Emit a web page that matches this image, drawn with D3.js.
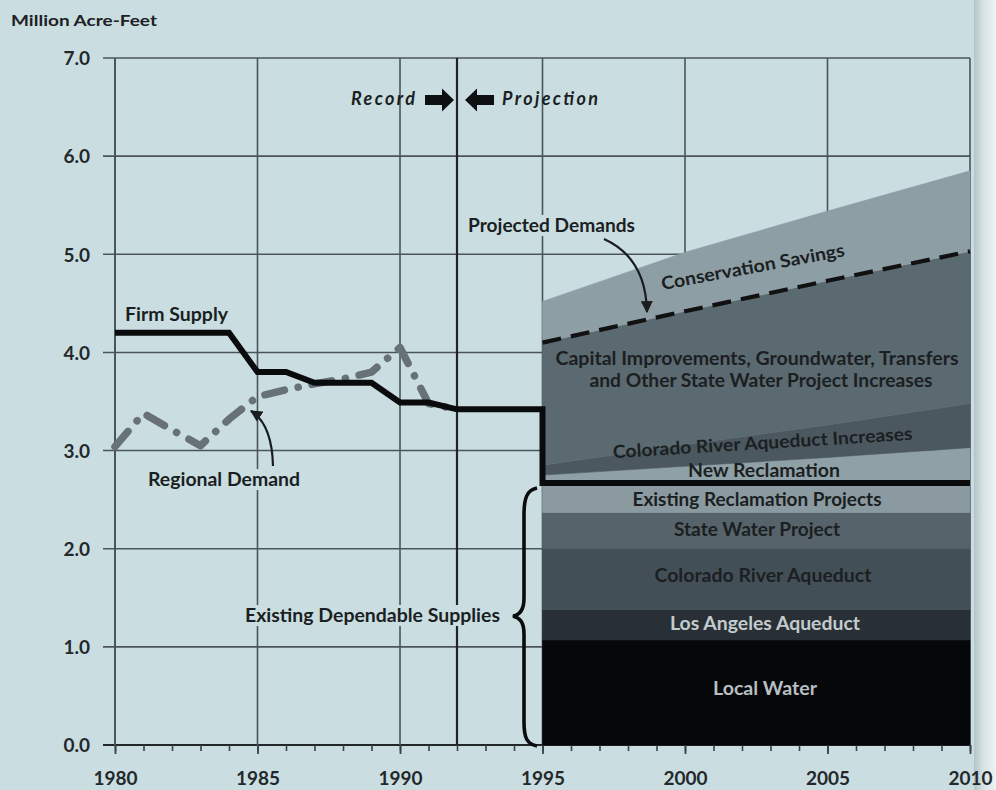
<!DOCTYPE html>
<html><head><meta charset="utf-8">
<script src="https://cdn.jsdelivr.net/npm/d3@7"></script>
<style>
html,body{margin:0;padding:0;background:#cadee2;}
svg{display:block;}
text{font-family:Lato, "Open Sans", sans-serif;}
</style></head><body>
<svg id="c" width="996" height="790"></svg>
<script>
// ---------- data ----------
const recordYears = [1980,1981,1982,1983,1984,1985,1986,1987,1988,1989,1990,1991,1992];
const firmSupplyRecord = [4.2,4.2,4.2,4.2,4.2,3.8,3.8,3.69,3.69,3.69,3.49,3.49,3.42];
const regionalDemand = [3.04,3.38,3.21,3.05,3.32,3.55,3.62,3.68,3.73,3.80,4.05,3.48,3.42];
const firmSupplyProjYears = [1995,1995,2010];
const firmSupplyProj = [3.42,2.67,2.67];

const projYears = [1995,2000,2005,2010];
const localWater = [1.07,1.07,1.07,1.07];
const losAngelesAqueduct = [0.31,0.31,0.31,0.31];
const coloradoRiverAqueduct = [0.62,0.62,0.62,0.62];
const stateWaterProject = [0.37,0.37,0.37,0.37];
const existingReclamation = [0.30,0.30,0.30,0.30];
const newReclamation = [0.08,0.17,0.26,0.36];
const coloradoIncreases = [0.10,0.22,0.33,0.45];
const capitalImprovements = [1.25,1.36,1.47,1.55];
const conservationSavings = [0.42,0.60,0.71,0.82];

const yTicks = [0,1,2,3,4,5,6,7];
const xMajorTicks = [1980,1985,1990,1995,2000,2005,2010];
const xMinorTicks = d3.range(1980,2011);
const dividerYear = 1992;

// ---------- setup ----------
const svg = d3.select('#c');
const x = d3.scaleLinear().domain([1980,2010]).range([115,970]);
const y = d3.scaleLinear().domain([0,7]).range([745,58]);
const gridLeft = 103;
const gridColor = '#4b5459';

const defs = svg.append('defs');
const grad = defs.append('linearGradient').attr('id','edge').attr('x1','0').attr('x2','1');
grad.append('stop').attr('offset','0').attr('stop-color','#b3c4c8');
grad.append('stop').attr('offset','0.45').attr('stop-color','#d9e3e5');
grad.append('stop').attr('offset','1').attr('stop-color','#eef2f2');
defs.append('marker').attr('id','ah').attr('viewBox','0 0 10 10').attr('refX',9).attr('refY',5)
  .attr('markerWidth',12).attr('markerHeight',12).attr('markerUnits','userSpaceOnUse').attr('orient','auto')
  .append('path').attr('d','M0,0 L10,5 L0,10 Z').attr('fill','#1a1d1f');

svg.append('rect').attr('width',996).attr('height',790).attr('fill','#cadee2');
svg.append('rect').attr('x',974).attr('y',0).attr('width',22).attr('height',790).attr('fill','url(#edge)');

// ---------- grid ----------
const gGrid = svg.append('g');
gGrid.selectAll('line.h').data(yTicks).join('line')
  .attr('x1',gridLeft).attr('x2',x(2010)).attr('y1',d=>y(d)).attr('y2',d=>y(d))
  .attr('stroke',d=>d===0?'#22272a':gridColor).attr('stroke-width',d=>d===0?2.2:1.6);
gGrid.selectAll('line.v').data(xMajorTicks).join('line')
  .attr('x1',d=>x(d)).attr('x2',d=>x(d)).attr('y1',y(7)).attr('y2',y(0))
  .attr('stroke',gridColor).attr('stroke-width',d=>d===1980?2:1.6);

// y labels via axis
const yAxis = d3.axisLeft(y).tickValues(yTicks).tickFormat(d3.format('.1f')).tickSize(0).tickPadding(13);
const gy = svg.append('g').attr('transform',`translate(${gridLeft},0)`).call(yAxis);
gy.select('.domain').remove();
gy.selectAll('text').attr('font-family','Lato, sans-serif').attr('font-weight',700)
  .attr('font-size',19).attr('fill','#23282b').attr('dy','0.36em');

// x axis ticks
const xMinor = d3.axisBottom(x).tickValues(xMinorTicks).tickSize(6).tickFormat('');
const gxm = svg.append('g').attr('transform',`translate(0,${y(0)})`).call(xMinor);
gxm.select('.domain').remove();
gxm.selectAll('line').attr('stroke','#3a4145').attr('stroke-width',1.6);
const xMajor = d3.axisBottom(x).tickValues(xMajorTicks).tickSize(9).tickFormat(d3.format('d'));
const gx = svg.append('g').attr('transform',`translate(0,${y(0)})`).call(xMajor);
gx.select('.domain').remove();
gx.selectAll('line').attr('stroke','#3a4145').attr('stroke-width',1.8);
gx.selectAll('text').attr('y',40).attr('dy',0).attr('font-family','Lato, sans-serif')
  .attr('font-weight',700).attr('font-size',19).attr('fill','#23282b');

// ---------- helpers ----------
function label(txt, px, py, o={}){
  const t = svg.append('text').attr('x',px).attr('y',py).text(txt)
    .attr('font-size',o.size||17).attr('font-weight',o.weight||700)
    .attr('fill',o.fill||'#1b1f22').attr('text-anchor',o.anchor||'middle');
  if(o.italic) t.attr('font-style','italic');
  if(o.len) t.attr('textLength',o.len).attr('lengthAdjust',o.adjust||'spacingAndGlyphs');
  if(o.rotate) t.attr('transform',`rotate(${o.rotate},${px},${py})`);
  if(o.bg){
    const b = t.node().getBBox();
    svg.insert('rect', () => t.node()).attr('x',b.x-4).attr('y',b.y+1).attr('width',b.width+8)
      .attr('height',b.height-1).attr('fill','#cadee2');
  }
  return t;
}

// ---------- stacked projection ----------
const projKeys = ['local','laa','cra','swp','exrecl','newrecl','craInc','capital','conservation'];
const projColors = {local:'#060708', laa:'#283035', cra:'#434f56', swp:'#56636a', exrecl:'#8a9aa0',
  newrecl:'#8fa0a6', craInc:'#4b585f', capital:'#5b6970', conservation:'#8d9ea5'};
const projTable = projYears.map((yr,i)=>({year:yr, local:localWater[i], laa:losAngelesAqueduct[i],
  cra:coloradoRiverAqueduct[i], swp:stateWaterProject[i], exrecl:existingReclamation[i],
  newrecl:newReclamation[i], craInc:coloradoIncreases[i], capital:capitalImprovements[i],
  conservation:conservationSavings[i]}));
const series = d3.stack().keys(projKeys)(projTable);
const area = d3.area().x(d=>x(d.data.year)).y0(d=>y(d[0])).y1(d=>y(d[1]));
svg.append('g').selectAll('path').data(series).join('path')
  .attr('d',area).attr('fill',d=>projColors[d.key]).attr('stroke',d=>projColors[d.key]).attr('stroke-width',0.6);

// projected demand dashed line (top of capital improvements)
const capSeries = series.find(s=>s.key==='capital');
svg.append('path').datum(capSeries)
  .attr('d',d3.line().x(d=>x(d.data.year)).y(d=>y(d[1])))
  .attr('fill','none').attr('stroke','#111').attr('stroke-width',4.2).attr('stroke-dasharray','19,10');

// divider line
svg.append('line').attr('x1',x(dividerYear)).attr('x2',x(dividerYear)).attr('y1',y(7)).attr('y2',y(0))
  .attr('stroke','#1f2427').attr('stroke-width',2.2);

// ---------- lines ----------
const demandPts = recordYears.map((yr,i)=>[yr, regionalDemand[i]]);
svg.append('path').datum(demandPts)
  .attr('d',d3.line().x(d=>x(d[0])).y(d=>y(d[1])))
  .attr('fill','none').attr('stroke','#687176').attr('stroke-width',7.5)
  .attr('stroke-linecap','round').attr('stroke-linejoin','round').attr('stroke-dasharray','20,14,0.1,14');

const firmPts = recordYears.map((yr,i)=>[yr, firmSupplyRecord[i]])
  .concat(firmSupplyProjYears.map((yr,i)=>[yr, firmSupplyProj[i]]));
svg.append('path').datum(firmPts)
  .attr('d',d3.line().x(d=>x(d[0])).y(d=>y(d[1])))
  .attr('fill','none').attr('stroke','#0a0b0c').attr('stroke-width',6).attr('stroke-linejoin','miter');

// ---------- text labels ----------
label('Million Acre-Feet', 11, 26, {anchor:'start', size:16, len:146, fill:'#1d2124'});
label('Firm Supply', 125, 321, {anchor:'start', size:18, len:103});
label('Regional Demand', 148, 486, {anchor:'start', size:18, len:152, bg:true});
label('Existing Dependable Supplies', 245, 622, {anchor:'start', size:18, len:255, bg:true});
label('Projected Demands', 468, 232, {anchor:'start', size:18, len:167, bg:true});
label('Record', 351, 105, {anchor:'start', size:18, italic:true, len:64, adjust:'spacing'});
label('Projection', 502, 105, {anchor:'start', size:18, italic:true, len:96, adjust:'spacing'});

label('Conservation Savings', 754, 273, {size:18, len:186, rotate:-10.5});
label('Capital Improvements, Groundwater, Transfers', 757, 365, {size:18, len:403});
label('and Other State Water Project Increases', 761, 387, {size:18, len:343});
label('Colorado River Aqueduct Increases', 763, 449, {size:18, len:300, rotate:-3.5});
label('New Reclamation', 764, 477, {size:18, len:152});
label('Existing Reclamation Projects', 757, 506, {size:18, len:249});
label('State Water Project', 757, 536, {size:18, len:166});
label('Colorado River Aqueduct', 763, 582, {size:18, len:217});
label('Los Angeles Aqueduct', 765, 630, {size:18, len:190, fill:'#c3cbcf'});
label('Local Water', 765, 695, {size:18, len:104, fill:'#b7bfc3'});

// ---------- record / projection block arrows ----------
const xd = x(dividerYear), ay = 100;
function blockArrow(tipX, dir){
  const p = d3.path();
  const bodyLen = 17, headLen = 12, bh = 5, hh = 11.5;
  const s = dir; // +1 right, -1 left
  p.moveTo(tipX, ay);
  p.lineTo(tipX - s*headLen, ay - hh);
  p.lineTo(tipX - s*headLen, ay - bh);
  p.lineTo(tipX - s*(headLen+bodyLen), ay - bh);
  p.lineTo(tipX - s*(headLen+bodyLen), ay + bh);
  p.lineTo(tipX - s*headLen, ay + bh);
  p.lineTo(tipX - s*headLen, ay + hh);
  p.closePath();
  svg.append('path').attr('d',p.toString()).attr('fill','#0d0f10');
}
blockArrow(xd - 3, 1);
blockArrow(xd + 8, -1);

// ---------- annotation arrows ----------
svg.append('path').attr('d','M604,239 Q646,258 647,312')
  .attr('fill','none').attr('stroke','#1a1d1f').attr('stroke-width',2.2).attr('marker-end','url(#ah)');
svg.append('path').attr('d','M273,466 Q272,424 251,411')
  .attr('fill','none').attr('stroke','#1a1d1f').attr('stroke-width',2.2).attr('marker-end','url(#ah)');

// brace
svg.append('path')
  .attr('d','M537,488 C527,490 524,498 524,515 L524,598 C524,610 520,615 513,616 C520,618 524,622 524,634 L524,722 C524,738 527,744 537,746')
  .attr('fill','none').attr('stroke','#0a0b0c').attr('stroke-width',3.6);
</script>
</body></html>
